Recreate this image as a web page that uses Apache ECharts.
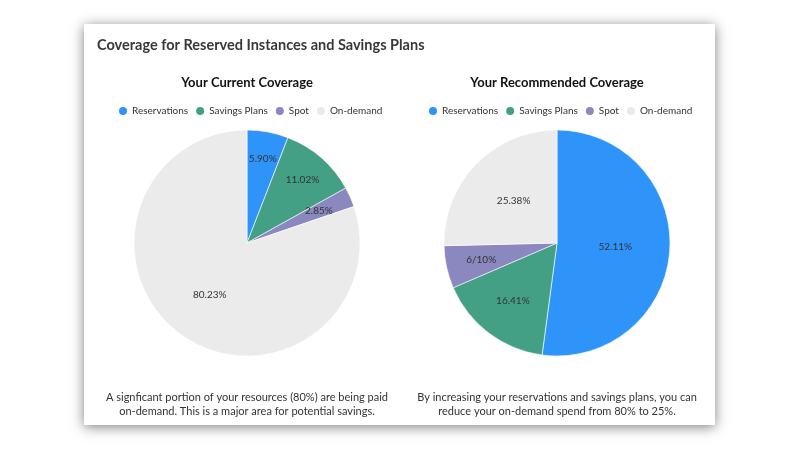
<!DOCTYPE html>
<html>
<head>
<meta charset="utf-8">
<script src="https://cdn.jsdelivr.net/npm/echarts@6/dist/echarts.min.js"></script>
<style>
html, body { margin: 0; padding: 0; background: #fff; }
#chart { width: 800px; height: 450px; }
</style>
</head>
<body>
<div id="chart"></div>
<script>
var categories = ['Reservations', 'Savings Plans', 'Spot', 'On-demand'];
var currentValues = [5.90, 11.02, 2.85, 80.23];
var recommendedValues = [52.11, 16.41, 6.10, 25.38];
var currentLabels = ['5.90%', '11.02%', '2.85%', '80.23%'];
var recommendedLabels = ['52.11%', '16.41%', '6/10%', '25.38%'];
var colors = ['#2f94fa', '#44a084', '#8b87bf', '#ebebeb'];
// label distance from the centre, as a share of the radius
var currentLabelPos = [0.73, 0.72, 0.67, 0.54];
var recommendedLabelPos = [0.49, 0.62, 0.66, 0.51];

var R = 113;
var font = 'Lato';

function pieSeries(center, values) {
    return {
        type: 'pie',
        center: center,
        radius: [0, R],
        startAngle: 90,
        clockwise: true,
        avoidLabelOverlap: false,
        label: { show: false },
        labelLine: { show: false },
        emphasis: { disabled: true },
        itemStyle: { borderColor: '#fff', borderWidth: 0.6 },
        data: categories.map(function (c, i) {
            return { name: c, value: values[i] };
        })
    };
}

// one transparent pie per label, sized so its "inside" label lands where we want it
function labelSeries(center, values, labels, pos) {
    return pos.map(function (f, k) {
        return {
            type: 'pie',
            center: center,
            radius: [0, 2 * f * R],
            startAngle: 90,
            clockwise: true,
            silent: true,
            avoidLabelOverlap: false,
            itemStyle: { color: 'rgba(0,0,0,0)' },
            labelLine: { show: false },
            emphasis: { disabled: true },
            label: {
                position: 'inside',
                color: '#333',
                fontFamily: font,
                fontSize: 10,
                formatter: function (p) { return labels[p.dataIndex]; }
            },
            data: categories.map(function (c, i) {
                return { name: c, value: values[i], label: { show: i === k } };
            })
        };
    });
}

function legendAt(left) {
    return {
        data: categories, left: left, top: 105, padding: 0,
        icon: 'circle', itemWidth: 10, itemHeight: 10, itemGap: 6,
        selectedMode: false,
        textStyle: { fontFamily: font, fontSize: 10, color: '#333', padding: [0, 0, 0, -1] }
    };
}

var myChart = echarts.init(document.getElementById('chart'));
var option = {
    color: colors,
    animation: false,
    graphic: [{
        type: 'rect',
        z: 0,
        shape: { x: 84, y: 24, width: 631, height: 401 },
        style: {
            fill: '#fff',
            shadowBlur: 12,
            shadowColor: 'rgba(0,0,0,0.5)',
            shadowOffsetY: 2
        }
    }],
    title: [
        {
            text: 'Coverage for Reserved Instances and Savings Plans',
            left: 97, top: 38, padding: 0,
            textStyle: { fontFamily: font, fontSize: 14.5, fontWeight: 'bold', color: '#383838' }
        },
        {
            text: 'Your Current Coverage',
            left: 247, top: 76, padding: 0, textAlign: 'center',
            textStyle: { fontFamily: font, fontSize: 13, fontWeight: 'bold', color: '#111' }
        },
        {
            text: 'Your Recommended Coverage',
            left: 557, top: 76, padding: 0, textAlign: 'center',
            textStyle: { fontFamily: font, fontSize: 13, fontWeight: 'bold', color: '#111' }
        },
        {
            text: 'A signficant portion of your resources (80%) are being paid\non-demand. This is a major area for potential savings.',
            left: 247, top: 390, padding: 0, textAlign: 'center',
            textStyle: { fontFamily: font, fontSize: 11, fontWeight: 'normal', lineHeight: 14, color: '#333' }
        },
        {
            text: 'By increasing your reservations and savings plans, you can\nreduce your on-demand spend from 80% to 25%.',
            left: 557, top: 390, padding: 0, textAlign: 'center',
            textStyle: { fontFamily: font, fontSize: 11, fontWeight: 'normal', lineHeight: 14, color: '#333' }
        }
    ],
    legend: [legendAt(117), legendAt(427)],
    series: [
        pieSeries([247, 243], currentValues),
        pieSeries([557, 243], recommendedValues)
    ].concat(
        labelSeries([247, 243], currentValues, currentLabels, currentLabelPos),
        labelSeries([557, 243], recommendedValues, recommendedLabels, recommendedLabelPos)
    )
};
myChart.setOption(option);
</script>
</body>
</html>
